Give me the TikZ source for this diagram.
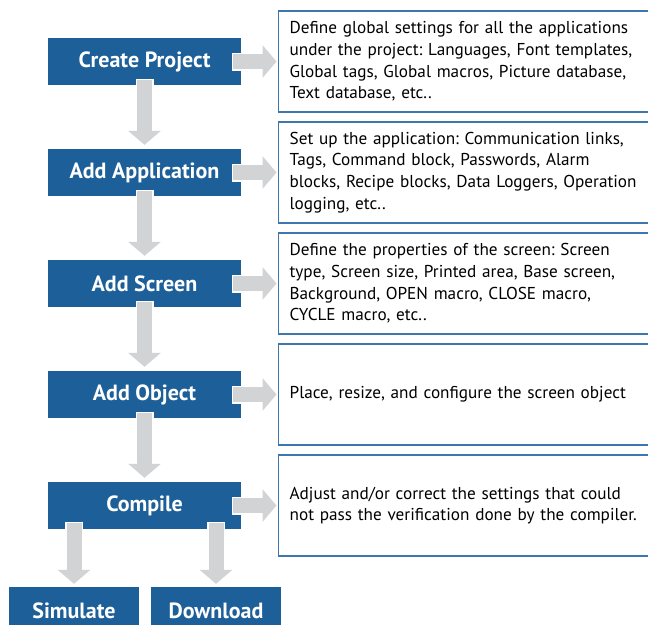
\documentclass[tikz,border=0pt]{standalone}
\usepackage{fontspec}
\setmainfont{PT Sans}
\usetikzlibrary{arrows.meta}

\definecolor{stepblue}{HTML}{1D5F98}
\definecolor{noteline}{HTML}{3E76AE}
\definecolor{flowgray}{HTML}{D1D3D4}

\tikzset{
  task/.style={fill=stepblue, text=white, minimum width=193pt, minimum height=47pt,
    inner sep=0pt, font=\fontsize{22}{24}\selectfont\bfseries},
  endtask/.style={task, minimum width=130pt},
  note/.style={draw=noteline, line width=1.3pt, anchor=west, minimum width=380pt,
    minimum height=101pt, text width=358pt, inner xsep=11pt, align=left,
    font=\fontsize{17.2}{21.7}\selectfont\frenchspacing},
  flow/.style={draw=flowgray, line width=15pt, -{Triangle[length=14pt,width=32pt]},
    preaction={draw=white, line width=18pt, arrows=-, shorten >=14pt, shorten <=-1.5pt}}
}

\begin{document}
\begin{tikzpicture}[x=1pt,y=-1pt]
\useasboundingbox (0,0) rectangle (648,624);
\clip (0,0) rectangle (648,624);

% steps
\node[task] (proj) at (144.5,61.5) {Create Project};
\node[task] (app)  at (144.5,172.5) {Add Application};
\node[task] (scr)  at (144.5,283.5) {Add Screen};
\node[task] (obj)  at (144.5,394.5) {Add Object};
\node[task] (comp) at (144.5,505.5) {Compile};
\node[endtask] (sim)  at (74,610.5) {Simulate};
\node[endtask] (down) at (216,610.5) {Download};

% notes
\node[note] (projnote) at (278,61.5) {Define global settings for all the applications\\
  under the project: Languages, Font templates,\\
  Global tags, Global macros, Picture database,\\
  Text database, etc..};
\node[note] (appnote) at (278,172.5) {Set up the application: Communication links,\\
  Tags, Command block, Passwords, Alarm\\
  blocks, Recipe blocks, Data Loggers, Operation\\
  logging, etc..};
\node[note] (scrnote) at (278,283.5) {Define the properties of the screen: Screen\\
  type, Screen size, Printed area, Base screen,\\
  Background, OPEN macro, CLOSE macro,\\
  CYCLE macro, etc..};
\node[note] (objnote) at (278,394.5) {Place, resize, and configure the screen object};
\node[note] (compnote) at (278,505.5) {Adjust and/or correct the settings that could\\
  not pass the verification done by the compiler.};

\coordinate (simtop) at (sim.north |- comp.south);
\coordinate (downtop) at (down.north |- comp.south);

\begin{scope}
\draw[flow] ([yshift=5pt]proj.south) -- ([yshift=4pt]app.north); %proj-app
\draw[flow] ([yshift=5pt]app.south) -- ([yshift=4pt]scr.north); %app-scr
\draw[flow] ([yshift=5pt]scr.south) -- ([yshift=4pt]obj.north); %scr-obj
\draw[flow] ([yshift=5pt]obj.south) -- ([yshift=4pt]comp.north); %obj-comp
\draw[flow] ([yshift=6pt]simtop) -- ([yshift=3pt]sim.north); %comp-sim
\draw[flow] ([yshift=6pt]downtop) -- ([yshift=3pt]down.north); %comp-down
\draw[flow] ([xshift=-8pt]proj.east) -- ([xshift=-1.5pt]projnote.west); %proj-note
\draw[flow] ([xshift=-8pt]app.east) -- ([xshift=-1.5pt]appnote.west); %app-note
\draw[flow] ([xshift=-8pt]scr.east) -- ([xshift=-1.5pt]scrnote.west); %scr-note
\draw[flow] ([xshift=-8pt]obj.east) -- ([xshift=-1.5pt]objnote.west); %obj-note
\draw[flow] ([xshift=-8pt]comp.east) -- ([xshift=-1.5pt]compnote.west); %comp-note
\end{scope}

\end{tikzpicture}
\end{document}
